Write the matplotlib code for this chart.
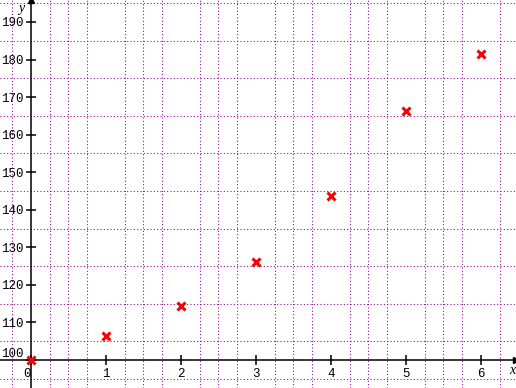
import numpy as np
import matplotlib
matplotlib.use('Agg')
import matplotlib.pyplot as plt

# data
x_vals = [0, 1, 2, 3, 4, 5, 6]
y_vals = [100.0, 106.5, 114.5, 126.2, 143.7, 166.4, 181.5]

x_ticks = [0, 1, 2, 3, 4, 5, 6]
y_ticks = [100, 110, 120, 130, 140, 150, 160, 170, 180, 190]

grid_col = '#8e008e'

fig = plt.figure(figsize=(5.16, 3.88), dpi=100)
ax = fig.add_axes([0, 0, 1, 1])
ax.set_xlim(-0.413, 6.467)
ax.set_ylim(92.55, 195.85)

# axes through the origin
ax.spines['left'].set_position(('data', 0))
ax.spines['bottom'].set_position(('data', 100))
ax.spines['top'].set_visible(False)
ax.spines['right'].set_visible(False)
for s in ['left', 'bottom']:
    ax.spines[s].set_linewidth(1.1)
    ax.spines[s].set_zorder(3)

# dotted grid
ax.set_xticks(np.arange(-0.25, 6.5, 0.25), minor=True)
ax.set_yticks(np.arange(95, 196, 5), minor=True)
ax.grid(which='minor', color=grid_col, linestyle=(0, (1, 2.2)), linewidth=0.75)
ax.set_axisbelow(True)
ax.tick_params(which='minor', length=0)

ax.set_xticks(x_ticks)
ax.set_yticks(y_ticks)
ax.set_xticklabels([str(v) for v in x_ticks])
ax.set_yticklabels([str(v) for v in y_ticks])
ax.tick_params(which='major', direction='inout', length=7, width=1.1, pad=2,
               labelsize=9)
for lab in ax.get_xticklabels() + ax.get_yticklabels():
    lab.set_family('Liberation Mono')

# move "100" and "0" away from the axes
ax.get_yticklabels()[0].set_va('bottom')
ax.get_xticklabels()[0].set_ha('right')

# arrows at the axis ends
ax.plot(1, 100, marker='>', ms=4, color='black', clip_on=False,
        transform=ax.get_yaxis_transform(), zorder=4)
ax.plot(0, 1, marker='^', ms=4, color='black', clip_on=False,
        transform=ax.get_xaxis_transform(), zorder=4)

ax.text(0.992, 0.045, 'x', transform=ax.transAxes, fontsize=10,
        family='Liberation Serif', style='italic', ha='center', va='center')
ax.text(0.042, 0.977, 'y', transform=ax.transAxes, fontsize=10,
        family='Liberation Serif', style='italic', ha='center', va='center')

ax.plot(x_vals, y_vals, linestyle='none', marker='x', color='red', ms=6,
        mew=2.2, zorder=5, clip_on=False)

plt.savefig('out.png', dpi=100)
